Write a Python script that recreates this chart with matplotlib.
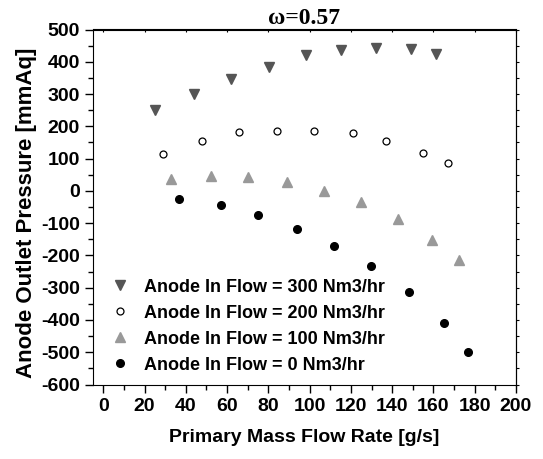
import numpy as np
import matplotlib
matplotlib.use("Agg")
import matplotlib.pyplot as plt
from matplotlib.ticker import MultipleLocator

# data
x_300 = [25.0, 44.1, 62.0, 80.1, 98.2, 115.0, 132.1, 149.1, 161.0]
y_300 = [250, 300, 346, 384, 421, 438, 443, 439, 424]

x_200 = [28.8, 48.0, 65.9, 84.0, 101.9, 121.0, 137.0, 154.9, 166.9]
y_200 = [115, 155, 182, 185, 187, 179, 154, 117, 87]

x_100 = [32.8, 52.0, 70.1, 89.0, 107.0, 125.1, 142.9, 159.1, 172.2]
y_100 = [37, 47, 43, 26, 1, -36, -86, -151, -213]

x_0 = [36.8, 56.9, 75.0, 93.8, 111.9, 129.8, 148.0, 165.0, 176.9]
y_0 = [-25, -45, -76, -119, -170, -234, -314, -408, -498]

labels = ["Anode In Flow = 300 Nm3/hr", "Anode In Flow = 200 Nm3/hr",
          "Anode In Flow = 100 Nm3/hr", "Anode In Flow = 0 Nm3/hr"]

plt.rcParams['font.family'] = ['Liberation Sans', 'DejaVu Sans']
plt.rcParams['font.weight'] = 'bold'
plt.rcParams['axes.unicode_minus'] = False

fig = plt.figure(figsize=(5.43, 4.59), dpi=100)
ax = fig.add_axes([93/543, 1 - 384.5/459, (516-93)/543, (384.5-29.5)/459])

ax.plot(x_300, y_300, 'v', color='#555555', ms=7.5, mec='#555555', label=labels[0])
ax.plot(x_200, y_200, 'o', mfc='white', mec='black', mew=0.9, ms=5, label=labels[1])
ax.plot(x_100, y_100, '^', color='#999999', ms=7.5, label=labels[2])
ax.plot(x_0, y_0, 'o', color='black', ms=5.5, label=labels[3])

ax.set_xlim(-5, 200)
ax.set_ylim(-600, 500)
ax.xaxis.set_major_locator(MultipleLocator(20))
ax.xaxis.set_minor_locator(MultipleLocator(10))
ax.yaxis.set_major_locator(MultipleLocator(100))
ax.yaxis.set_minor_locator(MultipleLocator(50))

ax.tick_params(which='both', direction='out', labelsize=14, width=1)
ax.tick_params(which='major', length=6)
ax.tick_params(which='minor', length=3.5)
# small marks on the top and right frame
sec_x = ax.secondary_xaxis('top')
sec_x.xaxis.set_major_locator(MultipleLocator(20))
sec_x.tick_params(direction='in', length=2, labeltop=False)
sec_y = ax.secondary_yaxis('right')
sec_y.yaxis.set_major_locator(MultipleLocator(50))
sec_y.tick_params(direction='out', length=2, labelright=False)
for lbl in ax.get_xticklabels() + ax.get_yticklabels():
    lbl.set_fontweight('bold')

ax.set_xlabel("Primary Mass Flow Rate [g/s]", fontsize=14, fontweight='bold', labelpad=10)
ax.set_ylabel("Anode Outlet Pressure [mmAq]", fontsize=16, fontweight='bold')
ax.yaxis.set_label_coords(-0.132, 0.483)
ax.set_title("ω=0.57", fontsize=17, family='Liberation Serif', fontweight='bold', pad=1)

ax.legend(loc='lower left', bbox_to_anchor=(0.0, -0.005), frameon=False,
          prop={'size': 13, 'weight': 'bold'}, handletextpad=0.5,
          labelspacing=0.5, borderaxespad=0.3, handlelength=1.6)

fig.savefig("out.png", dpi=100)
